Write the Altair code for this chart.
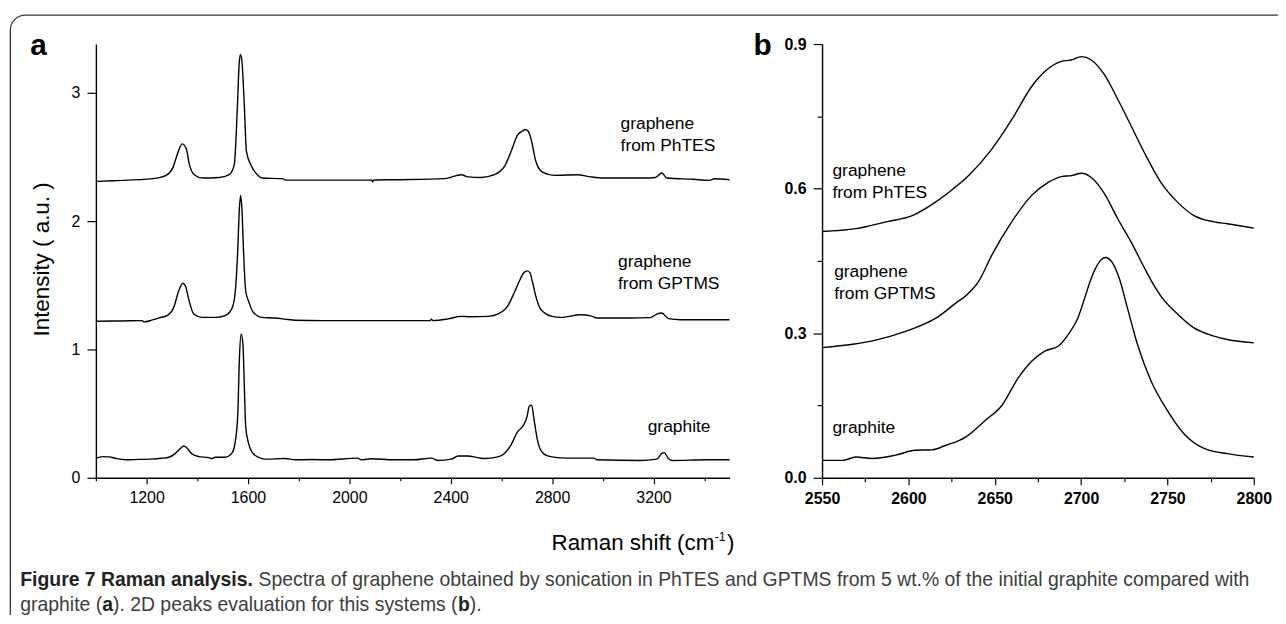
import altair as alt
import pandas as pd

FONT = "Liberation Sans"

# ---------------- panel a : full Raman spectra ----------------
a_graphite_x = [1000, 1026, 1052, 1080, 1118, 1170, 1216, 1260, 1288, 1314,
                1334, 1347, 1360, 1379, 1406, 1445, 1458, 1471, 1510, 1536,
                1549, 1560, 1566, 1573, 1580, 1585, 1591, 1602, 1615, 1641,
                1667, 1720, 1746, 1785, 1850, 1916, 2033, 2047, 2086, 2177,
                2253, 2324, 2350, 2402, 2429, 2468, 2507, 2533, 2586, 2612,
                2638, 2664, 2684, 2701, 2710, 2719, 2729, 2742, 2756, 2782,
                2821, 2886, 2965, 2978, 3148, 3213, 3233, 3242, 3259, 3272,
                3410, 3500]
a_graphite_y = [0.153, 0.165, 0.163, 0.150, 0.140, 0.143, 0.145, 0.152, 0.160, 0.190,
                0.230, 0.248, 0.230, 0.186, 0.165, 0.157, 0.150, 0.160, 0.160, 0.190,
                0.270, 0.500, 0.915, 1.120, 1.044, 0.760, 0.400, 0.270, 0.204, 0.160,
                0.145, 0.148, 0.150, 0.140, 0.142, 0.140, 0.153, 0.140, 0.148, 0.140,
                0.140, 0.153, 0.135, 0.145, 0.170, 0.170, 0.157, 0.150, 0.163, 0.190,
                0.256, 0.360, 0.400, 0.475, 0.558, 0.566, 0.450, 0.295, 0.212, 0.170,
                0.157, 0.153, 0.153, 0.140, 0.135, 0.145, 0.190, 0.196, 0.150, 0.135,
                0.140, 0.140]

a_gptms_x = [1000, 1100, 1183, 1190, 1220, 1249, 1281, 1307, 1327, 1343,
             1353, 1366, 1386, 1419, 1471, 1510, 1536, 1549, 1560, 1565,
             1571, 1576, 1583, 1591, 1604, 1621, 1654, 1706, 1759, 1785,
             1900, 2100, 2193, 2317, 2324, 2330, 2389, 2442, 2474, 2546,
             2585, 2625, 2650, 2670, 2685, 2700, 2712, 2722, 2735, 2750,
             2770, 2800, 2834, 2913, 2952, 2978, 3043, 3109, 3187, 3213,
             3233, 3259, 3305, 3500]
a_gptms_y = [1.220, 1.222, 1.225, 1.215, 1.228, 1.246, 1.264, 1.328, 1.457, 1.516,
             1.496, 1.393, 1.276, 1.250, 1.250, 1.264, 1.316, 1.432, 1.793, 2.052,
             2.200, 2.103, 1.742, 1.457, 1.367, 1.290, 1.250, 1.245, 1.233, 1.228,
             1.225, 1.225, 1.225, 1.225, 1.235, 1.225, 1.238, 1.258, 1.255, 1.258,
             1.276, 1.340, 1.440, 1.530, 1.590, 1.612, 1.600, 1.530, 1.420, 1.330,
             1.285, 1.258, 1.250, 1.270, 1.262, 1.245, 1.245, 1.245, 1.248, 1.276,
             1.284, 1.240, 1.232, 1.232]

a_phtes_x = [1000, 1068, 1225, 1277, 1303, 1323, 1340, 1356, 1369, 1388,
             1421, 1486, 1526, 1546, 1559, 1565, 1570, 1576, 1585, 1594,
             1611, 1637, 1656, 1735, 1749, 2089, 2092, 2095, 2193, 2376,
             2442, 2468, 2520, 2572, 2612, 2638, 2664, 2684, 2694, 2705,
             2716, 2736, 2762, 2808, 2899, 2952, 3004, 3161, 3207, 3233,
             3253, 3357, 3420, 3440, 3500]
a_phtes_y = [2.310, 2.315, 2.331, 2.357, 2.413, 2.530, 2.602, 2.568, 2.440, 2.362,
             2.336, 2.340, 2.362, 2.440, 2.930, 3.220, 3.300, 3.250, 2.930, 2.543,
             2.440, 2.362, 2.336, 2.331, 2.320, 2.320, 2.305, 2.320, 2.323, 2.331,
             2.362, 2.345, 2.340, 2.362, 2.426, 2.543, 2.672, 2.703, 2.714, 2.703,
             2.646, 2.465, 2.382, 2.357, 2.362, 2.345, 2.336, 2.336, 2.340, 2.375,
             2.336, 2.326, 2.318, 2.330, 2.323]

# ---------------- panel b : 2D band ----------------
b_phtes_x = [2550, 2569.6, 2586.9, 2602.2, 2615.7, 2623.3, 2634.9, 2648.3, 2659.8, 2671.4,
             2679, 2688.6, 2694.4, 2700.2, 2705.9, 2713.6, 2721.3, 2729, 2736.6, 2746.2,
             2755.8, 2765.4, 2777, 2784.6, 2800]
b_phtes_y = [0.511, 0.517, 0.531, 0.544, 0.572, 0.592, 0.627, 0.682, 0.743, 0.812,
             0.843, 0.864, 0.867, 0.874, 0.867, 0.836, 0.785, 0.730, 0.675, 0.613,
             0.572, 0.544, 0.531, 0.527, 0.518]

b_gptms_x = [2550, 2567.7, 2579.2, 2592.6, 2606, 2617.6, 2627.2, 2633.9, 2640.6, 2648.3,
             2659.8, 2671.4, 2681, 2688.6, 2694.4, 2700.2, 2705.9, 2713.6, 2721.3, 2729,
             2736.6, 2742.4, 2746.2, 2755.8, 2765.4, 2777, 2784.6, 2800]
b_gptms_y = [0.270, 0.277, 0.284, 0.297, 0.314, 0.335, 0.362, 0.380, 0.407, 0.462,
             0.531, 0.586, 0.613, 0.625, 0.627, 0.632, 0.623, 0.589, 0.537, 0.489,
             0.436, 0.398, 0.377, 0.340, 0.311, 0.294, 0.287, 0.280]

b_graphite_x = [2550, 2561.9, 2569.6, 2579, 2592.6, 2604, 2613.7, 2621.4, 2632.9, 2644.5,
                2654.1, 2663.7, 2671.4, 2679, 2686.7, 2692.5, 2698.2, 2702.1, 2705, 2708,
                2711, 2714, 2718, 2722, 2727, 2732.8, 2740.5, 2750.1, 2759.7, 2771.2,
                2784.6, 2800]
b_graphite_y = [0.036, 0.036, 0.043, 0.040, 0.047, 0.057, 0.058, 0.067, 0.084, 0.119,
                0.150, 0.208, 0.242, 0.263, 0.273, 0.297, 0.332, 0.373, 0.405, 0.432,
                0.450, 0.457, 0.447, 0.415, 0.350, 0.275, 0.201, 0.139, 0.091, 0.061,
                0.050, 0.043]

# ---------------- annotation labels ----------------
label_text = ["graphene\nfrom PhTES", "graphene\nfrom GPTMS", "graphite"]
a_label_x = [3070, 3060, 3177]
a_label_y = [2.72, 1.643, 0.353]
b_label_x = [2556, 2557, 2556]
b_label_y = [0.627, 0.417, 0.093]

# ---------------- ticks ----------------
a_xticks = list(range(1000, 3401, 200))
a_yticks = [0, 0.5, 1, 1.5, 2, 2.5, 3]
b_xticks = list(range(2550, 2801, 25))
b_yticks = [0, 0.15, 0.3, 0.45, 0.6, 0.75, 0.9]


def series(xs, ys, name):
    return pd.DataFrame({"x": xs, "y": ys, "series": name})


df_a = pd.concat([series(a_graphite_x, a_graphite_y, "graphite"),
                  series(a_gptms_x, a_gptms_y, "gptms"),
                  series(a_phtes_x, a_phtes_y, "phtes")])
df_b = pd.concat([series(b_graphite_x, b_graphite_y, "graphite"),
                  series(b_gptms_x, b_gptms_y, "gptms"),
                  series(b_phtes_x, b_phtes_y, "phtes")])
lab_a = pd.DataFrame({"x": a_label_x, "y": a_label_y, "t": label_text})
lab_b = pd.DataFrame({"x": b_label_x, "y": b_label_y, "t": label_text})
one = pd.DataFrame({"k": [0]})

common = dict(grid=False, domainColor="black", domainWidth=1.4, tickColor="black",
              tickWidth=1.2, labelColor="black", labelFont=FONT, labelFontSize=16,
              labelOverlap=False, labelFlush=False, labelBound=False)

ax_a_x = alt.Axis(values=a_xticks, format="d", title=None,
                  labelExpr="datum.value % 400 == 0 ? datum.label : ''",
                  tickSize={"condition": {"test": "datum.value % 400 != 0", "value": 3}, "value": 6},
                  labelPadding=6, **common)
ax_a_y = alt.Axis(values=a_yticks, format="d", title="Intensity ( a.u. )",
                  labelExpr="datum.value % 1 == 0 ? datum.label : ''",
                  tickSize={"condition": {"test": "datum.value % 1 != 0", "value": 5}, "value": 9},
                  labelPadding=7, titleFont=FONT, titleFontSize=22.5, titleFontWeight="normal",
                  titleColor="black", titleAngle=270, titleAlign="center", titleBaseline="bottom",
                  titleX=-43, titleY=216, **common)
ax_b_x = alt.Axis(values=b_xticks, format="d", title=None,
                  labelExpr="datum.value % 50 == 0 ? datum.label : ''",
                  tickSize={"condition": {"test": "datum.value % 50 != 0", "value": 4}, "value": 7},
                  labelPadding=6, labelFontWeight="bold", **common)
ax_b_y = alt.Axis(values=b_yticks, format=".1f", title=None,
                  labelExpr="round(datum.value * 100) % 30 == 0 ? datum.label : ''",
                  tickSize={"condition": {"test": "round(datum.value * 100) % 30 != 0", "value": 5}, "value": 9},
                  labelPadding=7, labelFontWeight="bold", **common)

xa = alt.X("x:Q", scale=alt.Scale(domain=[1000, 3500], nice=False, zero=False), axis=ax_a_x)
ya = alt.Y("y:Q", scale=alt.Scale(domain=[0, 3.38], nice=False, zero=False), axis=ax_a_y)
xb = alt.X("x:Q", scale=alt.Scale(domain=[2550, 2800], nice=False, zero=False), axis=ax_b_x)
yb = alt.Y("y:Q", scale=alt.Scale(domain=[0, 0.9], nice=False, zero=False), axis=ax_b_y)


def deco(text, x, y, size, weight="normal", color="black", align="left"):
    return alt.Chart(one).mark_text(text=text, align=align, baseline="alphabetic", font=FONT,
                                    fontSize=size, fontWeight=weight, color=color).encode(
        x=alt.value(x), y=alt.value(y))


lines_a = alt.Chart(df_a).mark_line(color="black", strokeWidth=1.4, interpolate="monotone").encode(
    x=xa, y=ya, detail="series:N")
labels_a = alt.Chart(lab_a).mark_text(align="left", baseline="alphabetic", font=FONT, fontSize=17.5,
                                      lineBreak="\n", lineHeight=22.5, color="black").encode(
    x=xa, y=ya, text="t:N")

frame = alt.Chart(one).mark_rect(filled=False, stroke="#3a3a3a", strokeWidth=1.3, cornerRadius=15).encode(
    x=alt.value(-86), x2=alt.value(1204), y=alt.value(-29), y2=alt.value(598))

cap_bold = "#222222"
cap_norm = "#3d3d3d"
panel_a = alt.layer(
    frame, lines_a, labels_a,
    deco("a", -66, 11, 30, "bold"),
    deco("Raman shift (cm", 458, 509, 22.5),
    deco("-1", 622, 500, 12.5),
    deco(")", 634.5, 509, 22.5),
    deco("Figure 7 Raman analysis.", -76, 545, 19.5, "bold", cap_bold),
    deco("Spectra of graphene obtained by sonication in PhTES and GPTMS from 5 wt.% of the initial graphite compared with",
         163.5, 545, 19.5, "normal", cap_norm),
    deco("graphite (", -76, 570, 19.5, "normal", cap_norm),
    deco("a", 6.4, 570, 19.5, "bold", cap_bold),
    deco("). 2D peaks evaluation for this systems (", 17.2, 570, 19.5, "normal", cap_norm),
    deco("b", 364, 570, 19.5, "bold", cap_bold),
    deco(").", 375.9, 570, 19.5, "normal", cap_norm),
).properties(width=637, height=436)

lines_b = alt.Chart(df_b).mark_line(color="black", strokeWidth=1.4, interpolate="monotone").encode(
    x=xb, y=yb, detail="series:N")
labels_b = alt.Chart(lab_b).mark_text(align="left", baseline="alphabetic", font=FONT, fontSize=17.5,
                                      lineBreak="\n", lineHeight=22.5, color="black").encode(
    x=xb, y=yb, text="t:N")
panel_b = alt.layer(
    lines_b, labels_b,
    deco("b", -69, 11, 30, "bold"),
).properties(width=434, height=436)

chart = alt.hconcat(panel_a, panel_b, spacing=93, bounds="flush").properties(
    padding={"left": 1.35, "top": 4.65, "right": -16.65, "bottom": -26.65},
    background="white",
).configure_view(stroke=None)

chart.save("out.html", embed_options={"renderer": "svg", "actions": False})
